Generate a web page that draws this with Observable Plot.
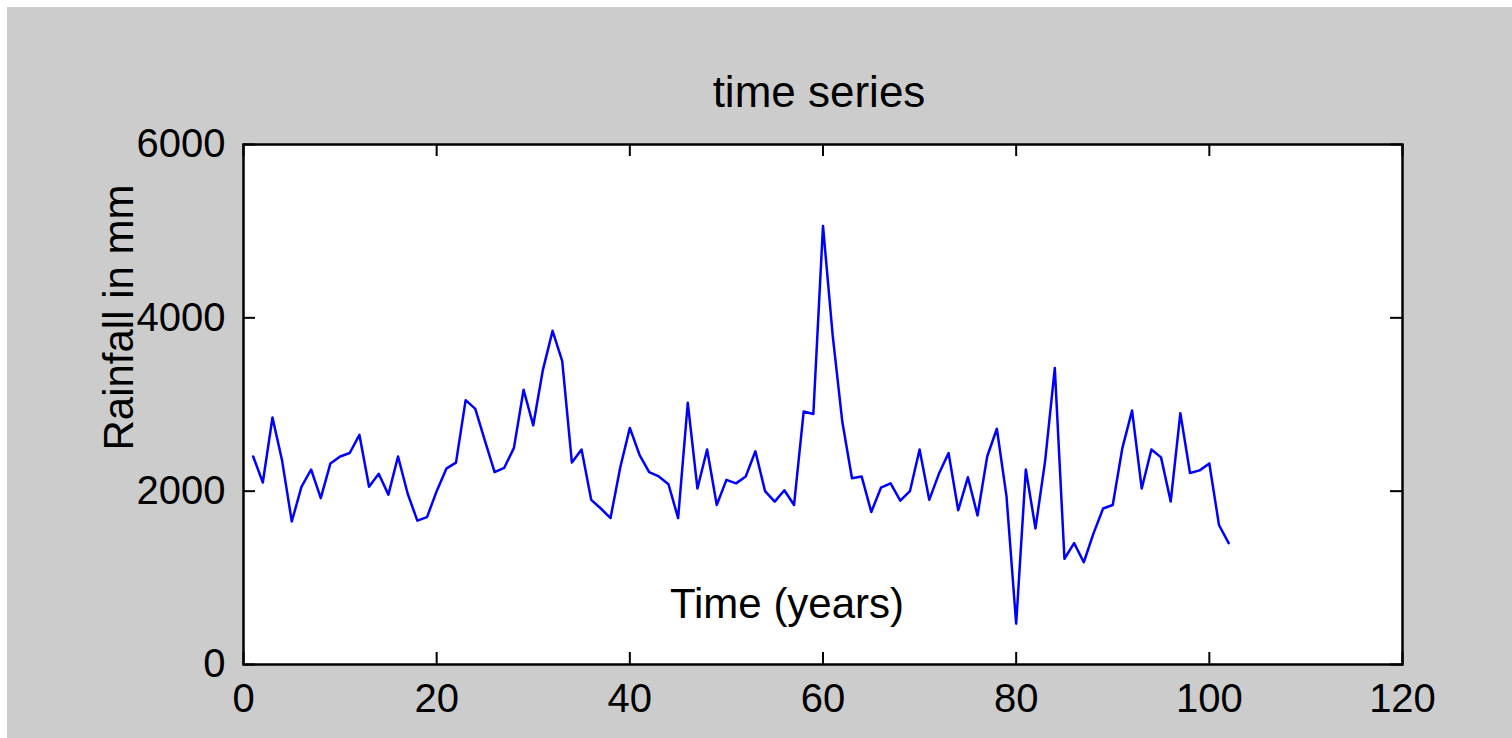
<!DOCTYPE html>
<html><head><meta charset="utf-8">
<script src="https://cdn.jsdelivr.net/npm/d3@7"></script>
<script src="https://cdn.jsdelivr.net/npm/@observablehq/plot@0.6"></script>
<style>
html,body{margin:0;padding:0;background:#ffffff;width:1512px;height:738px;overflow:hidden}
#chart{position:absolute;left:7px;top:7px;width:1505px;height:731px;background:#cccccc}
#chart svg{display:block}
</style></head><body><div id="chart"></div>
<script>
const years = [1,2,3,4,5,6,7,8,9,10,11,12,13,14,15,16,17,18,19,20,21,22,23,24,25,26,27,28,29,30,31,32,33,34,35,36,37,38,39,40,41,42,43,44,45,46,47,48,49,50,51,52,53,54,55,56,57,58,59,60,61,62,63,64,65,66,67,68,69,70,71,72,73,74,75,76,77,78,79,80,81,82,83,84,85,86,87,88,89,90,91,92,93,94,95,96,97,98,99,100,101,102];
const rainfall = [2400,2100,2850,2350,1650,2050,2250,1920,2320,2400,2440,2650,2050,2200,1960,2400,1970,1660,1700,2000,2260,2330,3050,2950,2580,2220,2270,2500,3170,2760,3400,3850,3500,2330,2480,1900,1800,1690,2270,2730,2420,2220,2170,2080,1690,3020,2030,2480,1840,2130,2090,2170,2460,2000,1880,2010,1840,2920,2890,5060,3800,2800,2150,2170,1760,2040,2090,1890,2000,2480,1900,2200,2440,1780,2160,1720,2400,2720,1940,470,2250,1570,2350,3420,1220,1400,1180,1510,1800,1840,2500,2930,2030,2480,2390,1880,2900,2210,2240,2320,1610,1400];
const xTicks = [0,20,40,60,80,100,120];
const yTicks = [0,2000,4000,6000];
const titleText = "time series";
const xLabel = "Time (years)";
const yLabel = "Rainfall in mm";

const data = years.map((x, i) => ({x, y: rainfall[i]}));
const W = 1505, H = 731, mL = 236, mR = 110, mT = 137, mB = 74;
const innerW = W - mL - mR, innerH = H - mT - mB;
const tick = 12;
const fmt = d => String(d);

const plot = Plot.plot({
  width: W, height: H,
  marginLeft: mL, marginRight: mR, marginTop: mT, marginBottom: mB,
  x: {domain: [0, 120]},
  y: {domain: [0, 6000]},
  style: {background: "transparent", fontFamily: "'Liberation Sans', Arial, sans-serif", color: "#000", overflow: "visible"},
  marks: [
    Plot.frame({fill: "white", stroke: null}),
    Plot.ruleX(xTicks, {x: d => d, insetTop: innerH - tick, stroke: "#000", strokeWidth: 2}),
    Plot.ruleX(xTicks, {x: d => d, insetBottom: innerH - tick, stroke: "#000", strokeWidth: 2}),
    Plot.ruleY(yTicks, {y: d => d, insetRight: innerW - tick, stroke: "#000", strokeWidth: 2}),
    Plot.ruleY(yTicks, {y: d => d, insetLeft: innerW - tick, stroke: "#000", strokeWidth: 2}),
    Plot.line(data, {x: "x", y: "y", stroke: "#0000ff", strokeWidth: 2.5}),
    Plot.frame({stroke: "#000", strokeWidth: 2.5}),
    Plot.axisX(xTicks, {anchor: "bottom", tickSize: 0, tickPadding: 19, fontSize: 40, tickFormat: fmt, label: null, fill: "#000"}),
    Plot.axisY(yTicks, {anchor: "left", tickSize: 0, tickPadding: 18, fontSize: 40, tickFormat: fmt, label: null, fill: "#000"}),
    Plot.text([titleText], {text: d => d, frameAnchor: "top", dx: -4, dy: -52, fontSize: 44, lineAnchor: "middle", fill: "#000"}),
    Plot.text([xLabel], {text: d => d, frameAnchor: "bottom", dx: -36, dy: -60, fontSize: 42, lineAnchor: "middle", textAnchor: "middle", fill: "#000"}),
    Plot.text([yLabel], {text: d => d, frameAnchor: "left", rotate: -90, dx: -124, dy: -87, fontSize: 42, lineAnchor: "middle", textAnchor: "middle", fill: "#000"})
  ]
});
document.getElementById("chart").appendChild(plot);
</script></body></html>
